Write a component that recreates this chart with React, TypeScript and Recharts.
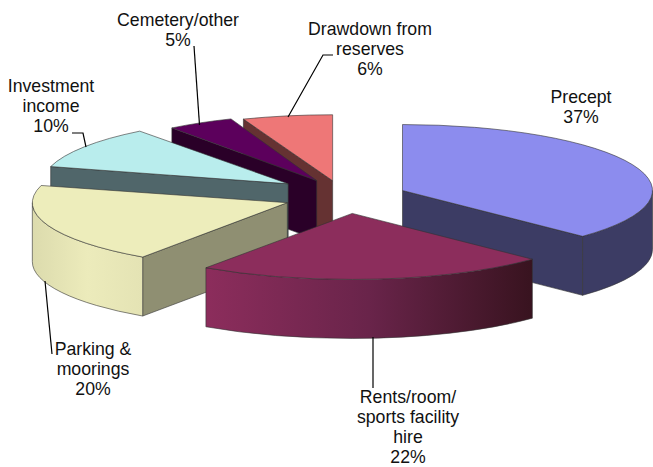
import { PieChart, Pie } from "recharts";

// Slices are listed in paint order (back to front), running anticlockwise from Precept,
// because later slices overlap the earlier ones.
const categories = ["Precept", "Drawdown", "Cemetery", "Investment", "Parking", "Rents"];
const shares = [37.2, 5.81, 4.5, 10.49, 19.6, 22.4];
const labelLines = [
  ["Precept"],
  ["Drawdown from", "reserves"],
  ["Cemetery/other"],
  ["Investment", "income"],
  ["Parking &", "moorings"],
  ["Rents/room/", "sports facility", "hire"],
];

const topColors = ["#8c8cee", "#ee7777", "#5c005c", "#b9eded", "#ededbb", "#8c2d5c"];
const edgeColors = ["#3c3c64", "#653232", "#2a0028", "#50666a", "#8f8f72", "#3a1425"];
const wallStops = [
  ["#3c3c64", "#3c3c64"],
  ["#653232", "#653232"],
  ["#2a0028", "#2a0028"],
  ["#50666a", "#50666a"],
  ["#dcdbad", "#ecebbb", "#e4e3b4"],
  ["#8c2d5c", "#69244a", "#38131f"],
];

// label centre x, first baseline y, then the leader line's points
const labelLayout = [
  { x: 581, y: 103, leader: [] },
  { x: 370, y: 35, leader: [[333, 55], [323, 55], [288, 117]] },
  { x: 178, y: 26, leader: [[194, 46], [199.5, 125]] },
  { x: 51, y: 92, leader: [[72, 133], [83, 133], [86, 147]] },
  { x: 93, y: 355, leader: [[45, 281], [52, 354]] },
  { x: 408, y: 403, leader: [[373, 337], [373, 388]] },
];

// small per-slice corrections for the reference's perspective
const apexNudge = [[0, 0], [-1, 0], [2, -2], [-5, -4], [1, 0], [1, 0]];
const leftRadius = [250, 250, 240, 246, 255, 258];

const RY_RATIO = 0.264;
const EXPLODE = 0.25;
const DEPTH = 59;

const data = categories.map((name, i) => ({ name, value: shares[i] }));
const startAngle = 90 - shares[0] * 3.6;

function Slice(props: any) {
  const { cx, cy, outerRadius, startAngle: a0, endAngle: a1, name } = props;
  const i = categories.indexOf(name);
  const ry = outerRadius * RY_RATIO;
  // clock angles, 0 = top, going clockwise
  const t0 = (((90 - a1) % 360) + 360) % 360;
  const t1 = t0 + (a1 - a0);
  const rad = (t: number) => (t * Math.PI) / 180;
  const mid = rad((t0 + t1) / 2);
  const ax = cx + EXPLODE * outerRadius * Math.sin(mid) + apexNudge[i][0];
  const ay = cy - EXPLODE * ry * Math.cos(mid) + apexNudge[i][1];
  const rxAt = (t: number) => (t > 180 ? leftRadius[i] : outerRadius);
  const px = (t: number) => ax + rxAt(t) * Math.sin(rad(t));
  const py = (t: number, d = 0) => ay - ry * Math.cos(rad(t)) + d;

  const seg = (from: number, to: number, d: number) =>
    `A${rxAt((from + to) / 2)} ${ry} 0 0 ${to > from ? 1 : 0} ${px(to)} ${py(to, d)}`;
  // the two halves have different x radii, so split the arc at the bottom
  const arc = (from: number, to: number, d = 0) =>
    Math.min(from, to) < 180 && Math.max(from, to) > 180
      ? seg(from, 180, d) + seg(180, to, d)
      : seg(from, to, d);
  const radialWall = (t: number) =>
    `M${ax} ${ay}L${px(t)} ${py(t)}L${px(t)} ${py(t, DEPTH)}L${ax} ${ay + DEPTH}Z`;

  const w0 = Math.max(t0, 90);
  const w1 = Math.min(t1, 270);
  const hasOuter = w1 > w0;
  const xs = [px(w0), px(w1)];
  const gradId = `wall-${i}`;
  const stops = wallStops[i];
  const line = { stroke: "#333", strokeWidth: 0.6, strokeLinejoin: "round" as const };

  return (
    <g>
      {hasOuter && (
        <defs>
          <linearGradient
            id={gradId}
            gradientUnits="userSpaceOnUse"
            x1={Math.min(...xs)}
            x2={Math.max(...xs)}
            y1={0}
            y2={0}
          >
            {stops.map((c, k) => (
              <stop key={k} offset={k / (stops.length - 1)} stopColor={c} />
            ))}
          </linearGradient>
        </defs>
      )}
      {t0 > 180 && t0 < 360 && <path d={radialWall(t0)} fill={edgeColors[i]} {...line} />}
      {t1 > 0 && t1 < 180 && <path d={radialWall(t1)} fill={edgeColors[i]} {...line} />}
      {hasOuter && (
        <path
          d={`M${px(w0)} ${py(w0)}${arc(w0, w1)}L${px(w1)} ${py(w1, DEPTH)}${arc(w1, w0, DEPTH)}Z`}
          fill={`url(#${gradId})`}
          {...line}
        />
      )}
      <path
        d={`M${ax} ${ay}L${px(t0)} ${py(t0)}${arc(t0, t1)}Z`}
        fill={topColors[i]}
        {...line}
      />
    </g>
  );
}

function SliceLabel(props: any) {
  const i = categories.indexOf(props.name);
  const { x, y, leader } = labelLayout[i];
  const lines = [...labelLines[i], `${Math.round(shares[i])}%`];
  return (
    <g>
      {leader.length > 0 && (
        <polyline
          points={leader.map((p) => p.join(",")).join(" ")}
          fill="none"
          stroke="#000"
          strokeWidth={1.2}
        />
      )}
      {lines.map((t, k) => (
        <text
          key={k}
          x={x}
          y={y + k * 20}
          textAnchor="middle"
          fontSize={17.7}
          fontFamily="'Liberation Sans', Arial, sans-serif"
          fill="#111"
        >
          {t}
        </text>
      ))}
    </g>
  );
}

export default function App() {
  return (
    <div style={{ position: "absolute", left: 0, top: 0, width: 653, height: 467, overflow: "hidden" }}>
      <PieChart width={653} height={467} margin={{ top: 0, right: 0, bottom: 0, left: 0 }}>
        <Pie
          data={data}
          dataKey="value"
          nameKey="name"
          cx={345}
          cy={197}
          innerRadius={0}
          outerRadius={250}
          startAngle={startAngle}
          endAngle={startAngle + 360}
          paddingAngle={0}
          stroke="none"
          shape={Slice}
          label={SliceLabel}
          labelLine={false}
          isAnimationActive={false}
        />
      </PieChart>
    </div>
  );
}
